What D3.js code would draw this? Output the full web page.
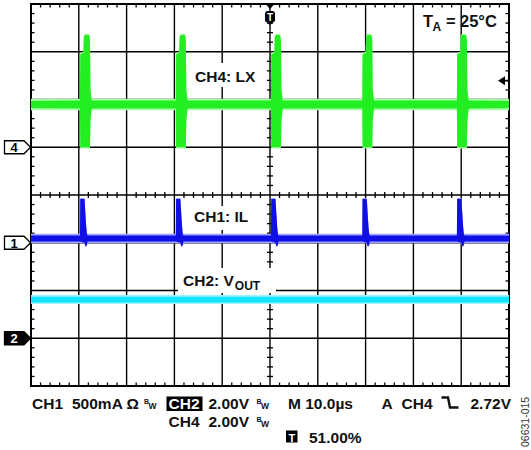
<!DOCTYPE html>
<html>
<head>
<meta charset="utf-8">
<script src="https://cdn.jsdelivr.net/npm/d3@7"></script>
<style>
  html, body { margin: 0; padding: 0; background: #fff; }
  svg { display: block; }
  text { font-family: "Liberation Sans", Arial, Helvetica, sans-serif; }
</style>
</head>
<body>
<svg id="chart" width="531" height="450"></svg>
<script>
// ---------------- data ----------------
// time axis: 10 divisions x 10.0 µs ; vertical: 8 divisions
const timeDivs = [0, 10, 20, 30, 40, 50, 60, 70, 80, 90, 100];   // µs
const vertDivs = [0, 1, 2, 3, 4, 5, 6, 7, 8];                    // divisions
// switching instants (leading edge of each spike), µs
const switchTimes = [10.25, 30.3, 50.2, 69.3, 89.1];

// CH4: LX  (2.00 V/div, ground marker at division 5)
const ch4Scale = 2.0, ch4Ground = 5;
const ch4Base = 1.79, ch4Core = 0.15, ch4Halo = 0.24;   // V
// spike envelope: [dt µs, high V, low V]
const ch4Spike = [
  [0.0, 1.96, 1.62], [0.06, 3.9, 0.0], [0.7, 3.95, 0.0], [0.8, 4.62, 0.0],
  [1.05, 4.70, 0.0], [1.9, 4.70, 0.0], [2.09, 4.49, 0.02], [2.2, 2.40, 1.14],
  [2.45, 1.96, 1.62]
];

// CH1: IL  (500 mA/div, ground marker at division 3)
const ch1Scale = 0.5, ch1Ground = 3;
const ch1Base = 0.045, ch1Core = 0.032, ch1Halo = 0.05;   // A
const ch1Spike = [
  [0.0, 0.077, 0.013], [0.05, 0.458, 0.013], [0.95, 0.458, 0.0], [1.1, 0.33, -0.034],
  [1.3, 0.17, -0.034], [1.45, 0.092, -0.02], [1.6, 0.077, 0.013]
];

// CH2: VOUT  (2.00 V/div, ground marker at division 1)
const ch2Scale = 2.0, ch2Ground = 1;
const ch2Base = 1.62, ch2Core = 0.12, ch2Halo = 0.19;       // V

const triggerLevel = 2.72;    // V on CH4
const triggerTime = 50;       // µs

// ---------------- layout ----------------
const svg = d3.select("#chart");
const x = d3.scaleLinear().domain([0, 100]).range([31, 509]);
const y = d3.scaleLinear().domain([0, 8]).range([386, 4]);
const toDiv = (scale, ground) => v => ground + v / scale;

const FONT = "15.5px";

// grid
const grid = svg.append("g").attr("stroke", "#000");
grid.selectAll("line.v").data(timeDivs.slice(1, -1)).join("line")
  .attr("x1", d => x(d)).attr("x2", d => x(d))
  .attr("y1", y(8)).attr("y2", y(0)).attr("stroke-width", 1.4);
grid.selectAll("line.h").data(vertDivs.slice(1, -1)).join("line")
  .attr("y1", d => y(d)).attr("y2", d => y(d))
  .attr("x1", x(0)).attr("x2", x(100)).attr("stroke-width", 1.4);

// minor ticks
const minorT = d3.range(0, 100.001, 2).filter(t => t % 10 !== 0);
const minorV = d3.range(0, 8.001, 0.2).filter(v => Math.abs(v - Math.round(v)) > 1e-6);
const tk = svg.append("g").attr("stroke", "#000").attr("stroke-width", 1.3);
minorT.forEach(t => {
  tk.append("line").attr("x1", x(t)).attr("x2", x(t)).attr("y1", y(8)).attr("y2", y(8) + 3.5);
  tk.append("line").attr("x1", x(t)).attr("x2", x(t)).attr("y1", y(0)).attr("y2", y(0) - 3.5);
  tk.append("line").attr("x1", x(t)).attr("x2", x(t)).attr("y1", y(4) - 3).attr("y2", y(4) + 3);
});
minorV.forEach(v => {
  tk.append("line").attr("y1", y(v)).attr("y2", y(v)).attr("x1", x(0)).attr("x2", x(0) + 3.5);
  tk.append("line").attr("y1", y(v)).attr("y2", y(v)).attr("x1", x(100)).attr("x2", x(100) - 3.5);
  tk.append("line").attr("y1", y(v)).attr("y2", y(v)).attr("x1", x(50) - 3).attr("x2", x(50) + 3);
});

// border
svg.append("rect").attr("x", x(0)).attr("y", y(8))
  .attr("width", x(100) - x(0)).attr("height", y(0) - y(8))
  .attr("fill", "none").attr("stroke", "#000").attr("stroke-width", 2);

// white label boxes (hide the grid behind the labels)
const boxes = [
  {x: 190, y: 63, w: 70, h: 24},
  {x: 190, y: 206, w: 64, h: 24},
  {x: 178, y: 268, w: 98, h: 25}
];
svg.selectAll("rect.box").data(boxes).join("rect")
  .attr("x", d => d.x).attr("y", d => d.y).attr("width", d => d.w).attr("height", d => d.h)
  .attr("fill", "#fff");

// ---------------- traces ----------------
function buildEnvelope(base, half, spike, extra) {
  const e = extra || 0;
  const pts = [{t: 0, hi: base + half, lo: base - half}];
  switchTimes.forEach(s => {
    spike.forEach(([dt, hi, lo]) => {
      const h = hi > base + half ? hi + e : base + half;
      const l = lo < base - half ? lo - e : base - half;
      pts.push({t: s + dt, hi: h, lo: l});
    });
  });
  pts.push({t: 100, hi: base + half, lo: base - half});
  return pts;
}
function drawTrace(env, scale, ground, color, opacity) {
  const f = toDiv(scale, ground);
  const area = d3.area().x(d => x(d.t)).y0(d => y(f(d.lo))).y1(d => y(f(d.hi)));
  svg.append("path").datum(env).attr("d", area).attr("fill", color).attr("opacity", opacity);
}
function drawBand(base, half, scale, ground, color, opacity) {
  const f = toDiv(scale, ground);
  const env = [{t: 0, hi: base + half, lo: base - half}, {t: 100, hi: base + half, lo: base - half}];
  const area = d3.area().x(d => x(d.t)).y0(d => y(f(d.lo))).y1(d => y(f(d.hi)));
  svg.append("path").datum(env).attr("d", area).attr("fill", color).attr("opacity", opacity);
}

// CH2 (cyan)
drawBand(ch2Base, ch2Halo, ch2Scale, ch2Ground, "#9af5ff", 1);
drawBand(ch2Base, ch2Core, ch2Scale, ch2Ground, "#10e4ff", 1);

// CH1 (blue)
drawTrace(buildEnvelope(ch1Base, ch1Halo, ch1Spike, 0.01), ch1Scale, ch1Ground, "#a0a0ff", 1);
drawTrace(buildEnvelope(ch1Base, ch1Core, ch1Spike), ch1Scale, ch1Ground, "#1010e6", 1);

// CH4 (green)
drawTrace(buildEnvelope(ch4Base, ch4Halo, ch4Spike, 0.05), ch4Scale, ch4Ground, "#a4ffa4", 1);
drawTrace(buildEnvelope(ch4Base, ch4Core, ch4Spike), ch4Scale, ch4Ground, "#22ee22", 1);

// ---------------- labels in the screen ----------------
const lab = svg.append("g").attr("font-size", FONT).attr("font-weight", "bold").attr("fill", "#111");
lab.append("text").attr("x", 195).attr("y", 82).text("CH4: LX");
lab.append("text").attr("x", 194).attr("y", 222).text("CH1: IL");
const vout = lab.append("text").attr("x", 183).attr("y", 286);
vout.append("tspan").text("CH2: V");
vout.append("tspan").attr("font-size", "12px").attr("dy", 3.5).attr("dx", 1).text("OUT");

const ta = lab.append("g").attr("font-size", "16.5px");
ta.append("text").attr("x", 423).attr("y", 27).text("T");
ta.append("text").attr("x", 432.5).attr("y", 31).attr("font-size", "12px").text("A");
ta.append("text").attr("x", 446).attr("y", 27).text("=");
ta.append("text").attr("x", 460).attr("y", 27).text("25°C");

// ground markers
const markers = [
  {label: "4", div: ch4Ground, filled: false},
  {label: "1", div: ch1Ground, filled: false},
  {label: "2", div: ch2Ground, filled: true}
];
const mk = svg.selectAll("g.mk").data(markers).join("g")
  .attr("transform", d => `translate(0,${y(d.div)})`);
mk.append("path").attr("d", "M4.5,-6.5 H24 L30.5,0 L24,6.5 H4.5 Z")
  .attr("fill", d => d.filled ? "#000" : "#fff").attr("stroke", "#000").attr("stroke-width", 1.3);
mk.append("text").attr("x", 14).attr("y", 5).attr("text-anchor", "middle")
  .attr("font-size", "13px").attr("font-weight", "bold")
  .attr("fill", d => d.filled ? "#fff" : "#000").text(d => d.label);

// trigger level arrow (right)
const ty = y(toDiv(ch4Scale, ch4Ground)(triggerLevel)) - 1.5;
svg.append("path").attr("d", `M${x(100) - 11},${ty} L${x(100) - 4},${ty - 4.5} L${x(100) - 4},${ty + 4.5} Z`).attr("fill", "#000");
svg.append("line").attr("x1", x(100) - 5).attr("x2", x(100)).attr("y1", ty).attr("y2", ty)
  .attr("stroke", "#000").attr("stroke-width", 1.5);

// trigger position marker (top)
const tx = x(triggerTime);
svg.append("path").attr("d", `M${tx - 4.5},${y(8)} L${tx + 4.5},${y(8)} L${tx},${y(8) + 5} Z`).attr("fill", "#000");
svg.append("path").attr("d", `M${tx - 5},${14} Q${tx - 5},${11} ${tx - 2},${11} H${tx + 2} Q${tx + 5},${11} ${tx + 5},${14} V${21} L${tx},${25} L${tx - 5},${21} Z`)
  .attr("fill", "#000");
svg.append("text").attr("x", tx).attr("y", 21).attr("text-anchor", "middle")
  .attr("font-size", "10px").attr("font-weight", "bold").attr("fill", "#fff").text("T");

// ---------------- bottom readout ----------------
const rd = svg.append("g").attr("font-size", FONT).attr("font-weight", "bold").attr("fill", "#111");
function bw(xp, yp) {
  rd.append("text").attr("x", xp).attr("y", yp - 5).attr("font-size", "7px").text("B");
  rd.append("text").attr("x", xp + 4.5).attr("y", yp).attr("font-size", "8.5px").text("W");
}
rd.append("text").attr("x", 32).attr("y", 409).text("CH1");
rd.append("text").attr("x", 72).attr("y", 409).text("500mA Ω");
bw(144, 409);
rd.append("rect").attr("x", 166.5).attr("y", 396.5).attr("width", 36).attr("height", 14.5).attr("fill", "#000");
rd.append("text").attr("x", 168.5).attr("y", 409).attr("fill", "#fff").text("CH2");
rd.append("text").attr("x", 208.5).attr("y", 409).text("2.00V");
bw(256.5, 409);
rd.append("text").attr("x", 168.5).attr("y", 426.5).text("CH4");
rd.append("text").attr("x", 208.5).attr("y", 426.5).text("2.00V");
bw(256.5, 426.5);
rd.append("text").attr("x", 288).attr("y", 409).text("M 10.0µs");
rd.append("text").attr("x", 381.5).attr("y", 409).text("A");
rd.append("text").attr("x", 401.5).attr("y", 409).text("CH4");
rd.append("path").attr("d", "M441.5,397.5 H448 L450,407.5 H458.5")
  .attr("fill", "none").attr("stroke", "#111").attr("stroke-width", 2.4);
rd.append("text").attr("x", 470.5).attr("y", 409).text("2.72V");
rd.append("rect").attr("x", 286).attr("y", 430.5).attr("width", 11.5).attr("height", 12).attr("fill", "#000");
rd.append("text").attr("x", 291.75).attr("y", 441.5).attr("text-anchor", "middle")
  .attr("font-size", "11px").attr("fill", "#fff").text("T");
rd.append("text").attr("x", 309).attr("y", 443).text("51.00%");

// figure code
svg.append("text").attr("transform", "translate(529,447) rotate(-90)")
  .attr("font-size", "10.5px").attr("fill", "#333").text("06631-015");
</script>
</body>
</html>
